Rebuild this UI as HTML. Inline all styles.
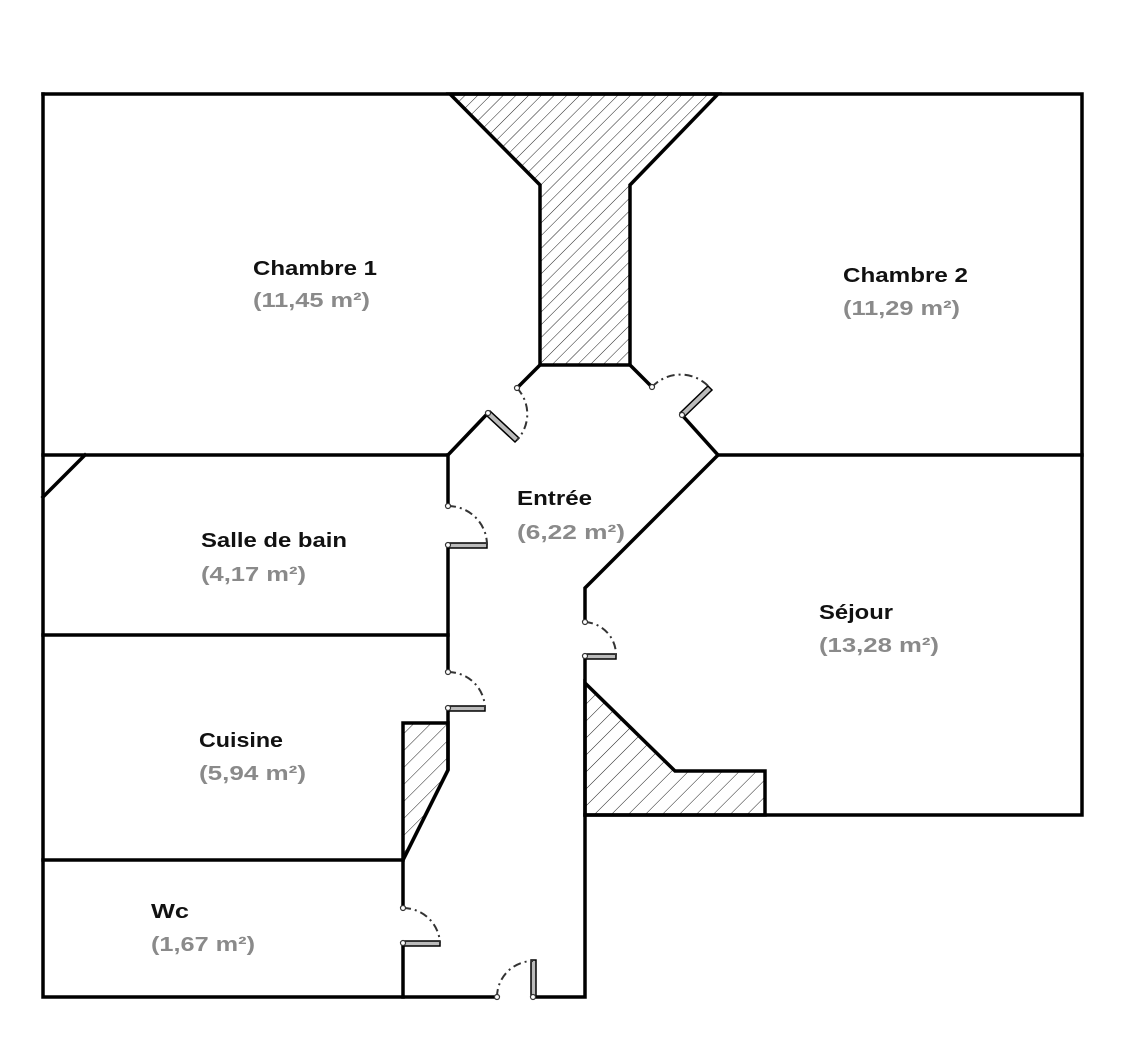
<!DOCTYPE html>
<html><head><meta charset="utf-8"><style>
html,body{margin:0;padding:0;background:#fff;}
svg{display:block;}
.n{font-family:"Liberation Sans",sans-serif;font-weight:bold;font-size:20px;fill:#111;}
.a{font-family:"Liberation Sans",sans-serif;font-weight:bold;font-size:20px;fill:#8a8a8a;}
</style></head><body>
<svg width="1140" height="1059" viewBox="0 0 1140 1059" xmlns="http://www.w3.org/2000/svg">
<defs>
<pattern id="h" width="9" height="9" patternUnits="userSpaceOnUse" patternTransform="rotate(45)">
<line x1="0" y1="0" x2="0" y2="9" stroke="#222" stroke-width="1"/>
</pattern>
<pattern id="h2" width="12" height="12" patternUnits="userSpaceOnUse" patternTransform="rotate(45)">
<line x1="0" y1="0" x2="0" y2="12" stroke="#222" stroke-width="1"/>
</pattern>
</defs>
<!-- hatched areas -->
<polygon points="450,94 718,94 630,185 630,365 540,365 540,185" fill="url(#h)" stroke="#000" stroke-width="3.5" stroke-linejoin="miter"/>
<polygon points="403,723 448,723 448,770 403,860" fill="url(#h2)" stroke="#000" stroke-width="3.5"/>
<polygon points="585,683 675,771 765,771 765,815 585,815" fill="url(#h2)" stroke="#000" stroke-width="3.5"/>
<g fill="none" stroke="#000" stroke-width="3.5" stroke-linecap="square" stroke-linejoin="miter">
<!-- outer -->
<polyline points="43,94 1082,94 1082,815 585,815"/>
<polyline points="43,94 43,997 497,997"/>
<polyline points="533,997 585,997 585,656"/>
<polyline points="585,622 585,588 718,455 1082,455"/>
<!-- chambre 1 bottom -->
<polyline points="43,455 448,455 488,413"/>
<line x1="517" y1="388" x2="540" y2="365"/>
<!-- chambre 2 -->
<line x1="630" y1="365" x2="652" y2="387"/>
<line x1="682" y1="415" x2="718" y2="455"/>
<!-- corner in bath -->
<line x1="43" y1="497" x2="85" y2="455"/>
<!-- corridor left -->
<line x1="448" y1="455" x2="448" y2="506"/>
<line x1="448" y1="545" x2="448" y2="672"/>
<polyline points="448,708 448,770 403,860 403,908"/>
<line x1="403" y1="943" x2="403" y2="997"/>
<line x1="43" y1="635" x2="448" y2="635"/>
<line x1="43" y1="860" x2="403" y2="860"/>
</g>
<!-- doors: leaves -->
<g fill="#bbb" stroke="#000" stroke-width="1.5">
<rect x="448" y="543" width="39" height="5"/>
<rect x="448" y="706" width="37" height="5"/>
<rect x="403" y="941" width="37" height="5"/>
<rect x="585" y="654" width="31" height="5"/>
<rect x="531" y="960" width="5" height="37"/>
<polygon points="486,415 490,411 519,438 515,442"/>
<polygon points="680,413 684,417 712,390 708,386"/>
</g>
<!-- arcs -->
<g fill="none" stroke="#333" stroke-width="2" stroke-dasharray="8,4,2,4">
<path d="M448,506 A39,39 0 0 1 487,545"/>
<path d="M448,672 A37,37 0 0 1 485,708"/>
<path d="M403,908 A37,37 0 0 1 440,943"/>
<path d="M585,622 A33,33 0 0 1 616,656"/>
<path d="M497,997 A36,36 0 0 1 533,961"/>
<path d="M517,388 A38,38 0 0 1 517,440"/>
<path d="M652,387 A39,39 0 0 1 710,388"/>
</g>
<!-- hinges -->
<g fill="#fff" stroke="#333" stroke-width="1.2">
<circle cx="448" cy="506" r="2.5"/><circle cx="448" cy="545" r="2.5"/>
<circle cx="448" cy="672" r="2.5"/><circle cx="448" cy="708" r="2.5"/>
<circle cx="403" cy="908" r="2.5"/><circle cx="403" cy="943" r="2.5"/>
<circle cx="585" cy="622" r="2.5"/><circle cx="585" cy="656" r="2.5"/>
<circle cx="497" cy="997" r="2.5"/><circle cx="533" cy="997" r="2.5"/>
<circle cx="517" cy="388" r="2.5"/><circle cx="488" cy="413" r="2.5"/>
<circle cx="652" cy="387" r="2.5"/><circle cx="682" cy="415" r="2.5"/>
</g>
<!-- labels -->
<text class="n" x="253" y="275" textLength="124" lengthAdjust="spacingAndGlyphs">Chambre 1</text>
<text class="a" x="253" y="307" textLength="117" lengthAdjust="spacingAndGlyphs">(11,45 m²)</text>
<text class="n" x="843" y="282" textLength="125" lengthAdjust="spacingAndGlyphs">Chambre 2</text>
<text class="a" x="843" y="315" textLength="117" lengthAdjust="spacingAndGlyphs">(11,29 m²)</text>
<text class="n" x="517" y="505" textLength="75" lengthAdjust="spacingAndGlyphs">Entrée</text>
<text class="a" x="517" y="539" textLength="108" lengthAdjust="spacingAndGlyphs">(6,22 m²)</text>
<text class="n" x="201" y="547" textLength="146" lengthAdjust="spacingAndGlyphs">Salle de bain</text>
<text class="a" x="201" y="581" textLength="105" lengthAdjust="spacingAndGlyphs">(4,17 m²)</text>
<text class="n" x="819" y="619" textLength="74" lengthAdjust="spacingAndGlyphs">Séjour</text>
<text class="a" x="819" y="652" textLength="120" lengthAdjust="spacingAndGlyphs">(13,28 m²)</text>
<text class="n" x="199" y="747" textLength="84" lengthAdjust="spacingAndGlyphs">Cuisine</text>
<text class="a" x="199" y="780" textLength="107" lengthAdjust="spacingAndGlyphs">(5,94 m²)</text>
<text class="n" x="151" y="918" textLength="38" lengthAdjust="spacingAndGlyphs">Wc</text>
<text class="a" x="151" y="951" textLength="104" lengthAdjust="spacingAndGlyphs">(1,67 m²)</text>
</svg>
</body></html>
